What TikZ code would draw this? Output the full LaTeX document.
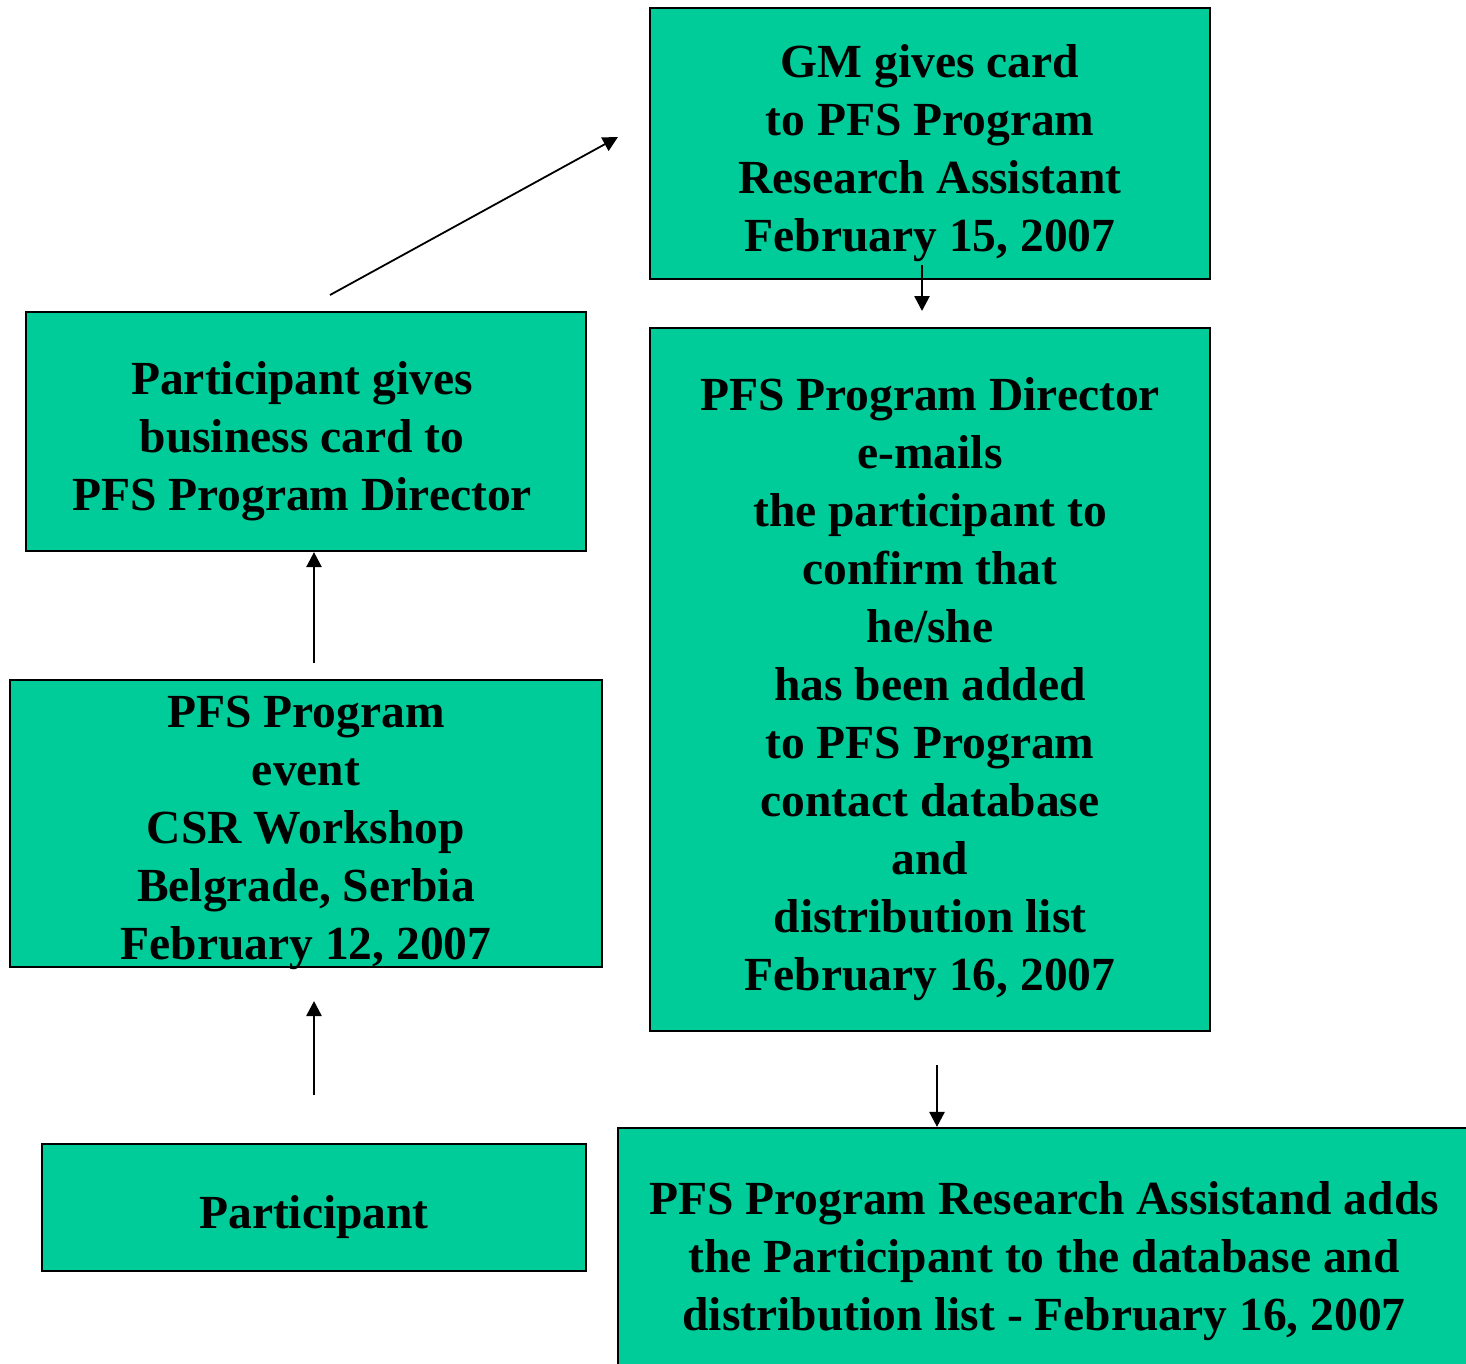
\documentclass[tikz,border=0pt]{standalone}
\usepackage{fontspec}
\setmainfont{Liberation Serif}
\usetikzlibrary{arrows.meta}
\definecolor{boxgreen}{HTML}{00CC99}
\begin{document}
\begin{tikzpicture}[x=1pt,y=-1pt,
  stepbox/.style={draw=black, line width=2.2pt, fill=boxgreen, inner sep=0pt},
  steptext/.style={inner sep=0pt, align=center,
    font=\fontsize{47.5}{58}\selectfont\bfseries},
  flow/.style={line width=2.6pt, -{Triangle[length=15pt,width=15pt]}},
  thinflow/.style={line width=1.8pt, -{Triangle[length=15pt,width=15pt]}}]
\useasboundingbox (0,0) rectangle (1466,1363);
\clip (0,0) rectangle (1466,1363);

% boxes
\node[stepbox, minimum width=560, minimum height=271] (gm) at (930,143.5) {};
\node[stepbox, minimum width=560, minimum height=703] (dir) at (930,679.5) {};
\node[stepbox, minimum width=560, minimum height=239] (gives) at (306,431.5) {};
\node[stepbox, minimum width=592, minimum height=287] (event) at (306,823.5) {};
\node[stepbox, minimum width=544, minimum height=127] (part) at (314,1207.5) {};
\node[stepbox, minimum width=852, minimum height=250] (adds) at (1044,1253) {};

% box texts
\node[steptext] (gmt) at ([yshift=-9.5pt]gm.center)
  {GM gives card\\to PFS Program\\Research Assistant\\February 15, 2007};
\node[steptext] (dirt) at ([yshift=-9.5pt]dir.center)
  {PFS Program Director\\e-mails\\the participant to\\confirm that\\he/she\\has been added\\to PFS Program\\contact database\\and\\distribution list\\February 16, 2007};
\node[steptext] (givest) at ([xshift=-4pt,yshift=-9.5pt]gives.center)
  {Participant gives\\business card to\\PFS Program Director};
\node[steptext] (eventt) at ([yshift=-9.5pt]event.center)
  {PFS Program\\event\\CSR Workshop\\Belgrade, Serbia\\February 12, 2007};
\node[steptext] (partt) at ([yshift=-9.5pt]part.center)
  {Participant};
\node[steptext] (addst) at ([yshift=-8pt]adds.center)
  {PFS Program Research Assistand adds\\the Participant to the database and\\distribution list - February 16, 2007};

% connector end points
\coordinate (p0) at (314,1095);
\coordinate (p1) at (314,1001);
\coordinate (e0) at (314,663);
\coordinate (g0) at (330,295);
\coordinate (g1) at (618,137);
\coordinate (m0) at (922,265);
\coordinate (m1) at (922,311);
\coordinate (d0) at (937,1065);

\draw[flow] (p0) -- (p1);
\draw[flow] (e0) -- (gives.south -| e0);
\draw[thinflow] (g0) -- (g1);
\draw[flow] (m0) -- (m1);
\draw[flow] (d0) -- (d0 |- adds.north);
\end{tikzpicture}
\end{document}
